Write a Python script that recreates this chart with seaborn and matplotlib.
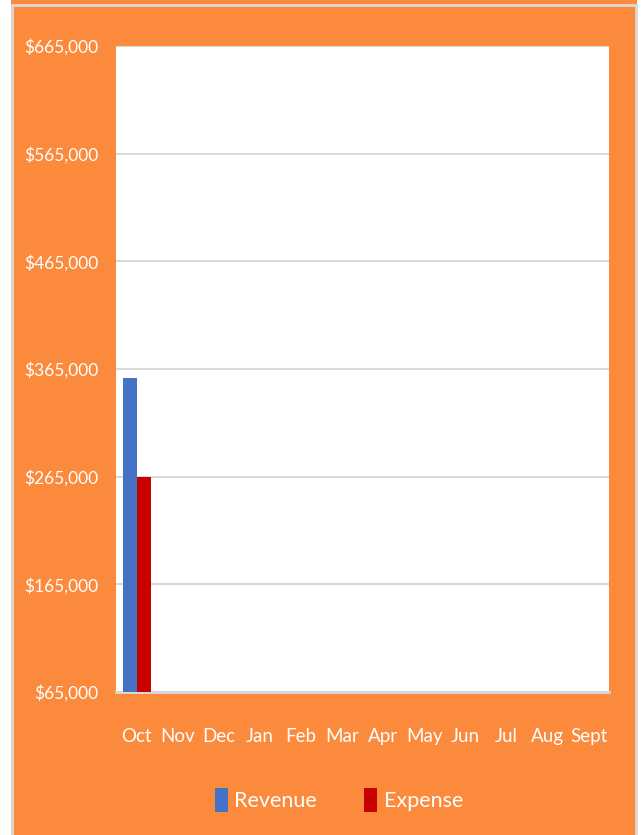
import numpy as np
import pandas as pd
import seaborn as sns
import matplotlib.pyplot as plt
from matplotlib.patches import Patch, Rectangle
from matplotlib.lines import Line2D
from matplotlib.ticker import FuncFormatter

months = ["Oct", "Nov", "Dec", "Jan", "Feb", "Mar", "Apr", "May", "Jun", "Jul", "Aug", "Sept"]
revenue = [357000] + [np.nan] * 11
expense = [265000] + [np.nan] * 11
y_ticks = [65000, 165000, 265000, 365000, 465000, 565000, 665000]

df = pd.DataFrame({
    "Month": months * 2,
    "Value": revenue + expense,
    "Series": ["Revenue"] * 12 + ["Expense"] * 12,
})

sns.set_theme(style="white")
plt.rcParams["font.family"] = ["Lato", "DejaVu Sans"]

orange = "#FB8A3C"
colors = {"Revenue": "#4472C4", "Expense": "#C80000"}

W, H = 642, 835
fig = plt.figure(figsize=(6.42, 8.35), dpi=100, facecolor="white")
# orange frame with thin grey edges
fig.patches.append(Rectangle((11 / W, 0), 626 / W, 1, transform=fig.transFigure,
                             facecolor=orange, edgecolor="none", zorder=-5))
for x in (12 / W, 636 / W):
    fig.add_artist(Line2D([x, x], [0, 1 - 5 / H], transform=fig.transFigure,
                          color="#D9D9D9", lw=2, zorder=-4))
fig.add_artist(Line2D([12 / W, 636 / W], [1 - 5 / H, 1 - 5 / H], transform=fig.transFigure,
                      color="#D9D9D9", lw=2, zorder=-4))

ax = fig.add_axes([116 / W, 1 - 692 / H, 493 / W, 646 / H])
ax.set_zorder(2)
ax.set_facecolor("white")

sns.barplot(data=df, x="Month", y="Value", hue="Series", order=months,
            hue_order=["Revenue", "Expense"], palette=colors, width=0.68,
            saturation=1, linewidth=0, ax=ax, legend=False, zorder=3)

ax.set_ylim(65000, 665000)
ax.set_yticks(y_ticks)
ax.yaxis.set_major_formatter(FuncFormatter(lambda v, p: f"${v:,.0f}"))
ax.grid(axis="y", color="#D9D9D9", lw=1.5, zorder=0)
ax.set_axisbelow(True)
for s in ["top", "left", "right"]:
    ax.spines[s].set_visible(False)
ax.spines["bottom"].set_color("#D9D9D9")
ax.spines["bottom"].set_linewidth(2)
ax.set_xlabel("")
ax.set_ylabel("")
ax.tick_params(axis="x", colors="white", labelsize=13.5, length=0, pad=26)
ax.tick_params(axis="y", colors="white", labelsize=12.5, length=0, pad=13)

handles = [Patch(facecolor=colors[k], edgecolor="none", label=k) for k in ["Revenue", "Expense"]]
leg = fig.legend(handles=handles, loc="center", bbox_to_anchor=(0.528, 0.042), ncol=2,
                 frameon=False, fontsize=15.5, handlelength=0.6, handleheight=1.3,
                 handletextpad=0.3, columnspacing=2.2)
leg.set_zorder(3)
for t in leg.get_texts():
    t.set_color("white")

fig.savefig("out.png", dpi=100, facecolor="white")
